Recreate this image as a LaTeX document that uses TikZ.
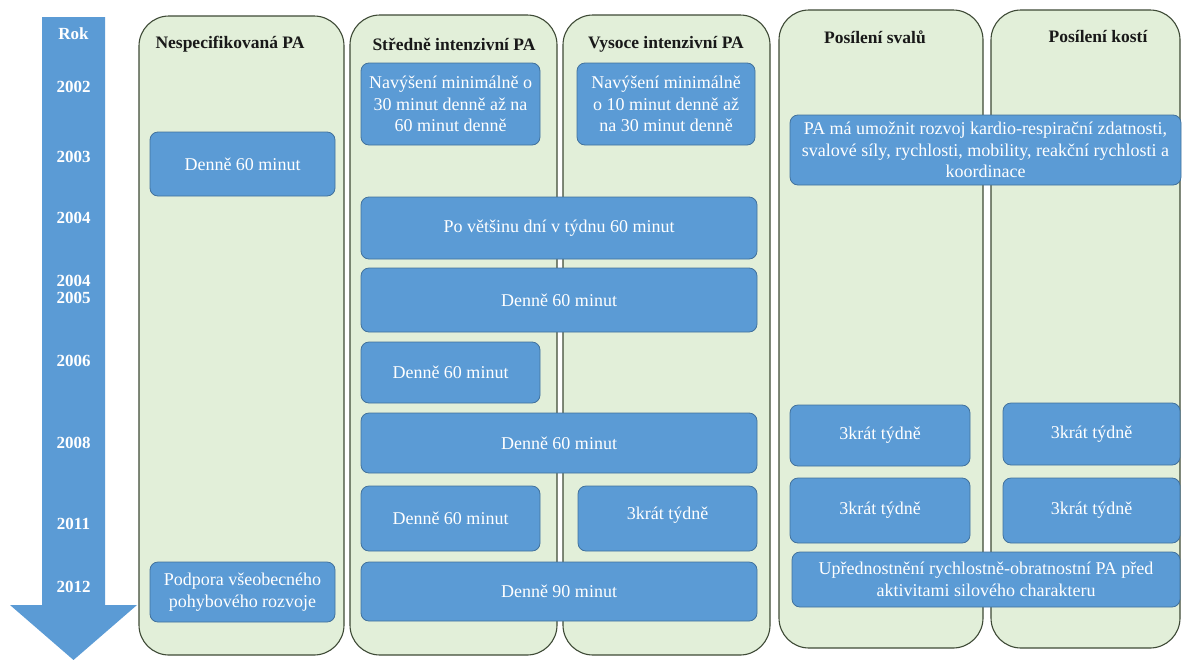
\documentclass[tikz,border=0pt]{standalone}
\usepackage{fontspec}
\setmainfont{Liberation Serif}
\definecolor{boxblue}{HTML}{5B9BD5}
\definecolor{boxedge}{HTML}{41719C}
\definecolor{colfill}{HTML}{E2EFD9}
\definecolor{coledge}{HTML}{3E4A36}
\tikzset{
  colbox/.style={draw=coledge, line width=1.1pt, fill=colfill, rounded corners=30pt, inner sep=0pt},
  coltitle/.style={font=\fontsize{17.5}{20}\selectfont\bfseries, text=black!90, inner sep=0pt},
  bx/.style={draw=boxedge, line width=0.8pt, fill=boxblue, rounded corners=8pt, text=white,
    font=\fontsize{18}{21.5}\selectfont, align=center, inner sep=1pt},
  yr/.style={font=\fontsize{17}{19}\selectfont\bfseries, text=white, inner sep=0pt, align=center}
}
\begin{document}
\begin{tikzpicture}[x=1pt,y=-1pt]
\useasboundingbox (0,0) rectangle (1182,659);
% timeline arrow
\fill[boxblue] (42,17) -- (105,17) -- (105,605) -- (137,605) -- (73.5,660) -- (10,605) -- (42,605) -- cycle;
\node[yr] (rok) at (73.5,34) {Rok};
\node[yr] (y02) at (73.5,87) {2002};
\node[yr] (y03) at (73.5,157) {2003};
\node[yr] (y04) at (73.5,218) {2004};
\node[yr] (y0405) at (73.5,289.5) {2004\\[-2pt]2005};
\node[yr] (y06) at (73.5,361) {2006};
\node[yr] (y08) at (73.5,443) {2008};
\node[yr] (y11) at (73.5,524) {2011};
\node[yr] (y12) at (73.5,587) {2012};
% columns
\node[colbox, minimum width=205pt, minimum height=639pt] (c1) at (241.5,335.5) {};
\node[colbox, minimum width=207pt, minimum height=640pt] (c2) at (453.5,335) {};
\node[colbox, minimum width=207pt, minimum height=640pt] (c3) at (666.5,335) {};
\node[colbox, minimum width=204pt, minimum height=638pt] (c4) at (881,329) {};
\node[colbox, minimum width=189pt, minimum height=638pt] (c5) at (1085.5,329) {};
\node[coltitle] (t1) at (230,44) {Nespecifikovaná PA};
\node[coltitle] (t2) at (454,44) {Středně intenzivní PA};
\node[coltitle] (t3) at (666,44) {Vysoce intenzivní PA};
\node[coltitle] (t4) at (875,37) {Posílení svalů};
\node[coltitle] (t5) at (1098,37) {Posílení kostí};
% boxes
\node[bx, minimum width=185pt, minimum height=64pt] (b1) at (242.5,164) {Denně 60 minut};
\node[bx, minimum width=179pt, minimum height=82pt] (n2a) at (450.5,104) {Navýšení minimálně o\\30 minut denně až na\\60 minut denně};
\node[bx, minimum width=178pt, minimum height=82pt] (n3a) at (666,104) {Navýšení minimálně\\o 10 minut denně až\\na 30 minut denně};
\node[bx, minimum width=391pt, minimum height=70pt] (pa) at (985.5,150) {PA má umožnit rozvoj kardio-respirační zdatnosti,\\svalové síly, rychlosti, mobility, reakční rychlosti a\\koordinace};
\node[bx, minimum width=396pt, minimum height=62pt] (po) at (559,228) {Po většinu dní v týdnu 60 minut};
\node[bx, minimum width=396pt, minimum height=64pt] (d45) at (559,300) {Denně 60 minut};
\node[bx, minimum width=179pt, minimum height=61pt] (d06) at (450.5,372.5) {Denně 60 minut};
\node[bx, minimum width=396pt, minimum height=60pt] (d08) at (559,443) {Denně 60 minut};
\node[bx, minimum width=180pt, minimum height=61pt] (s1) at (880,435.5) {3krát týdně};
\node[bx, minimum width=177pt, minimum height=62pt] (k1) at (1091.5,434) {3krát týdně};
\node[bx, minimum width=180pt, minimum height=65pt] (s2) at (880,510.5) {3krát týdně};
\node[bx, minimum width=177pt, minimum height=65pt] (k2) at (1091.5,510.5) {3krát týdně};
\node[bx, minimum width=179pt, minimum height=65pt] (d11) at (450.5,518.5) {Denně 60 minut};
\node[bx, minimum width=179pt, minimum height=65pt, text depth=10pt] (t11) at (667.5,518.5) {3krát týdně};
\node[bx, minimum width=388pt, minimum height=55pt] (up) at (986,579.5) {Upřednostnění rychlostně-obratnostní PA před\\aktivitami silového charakteru};
\node[bx, minimum width=185pt, minimum height=60pt] (pod) at (242.5,592) {Podpora všeobecného\\pohybového rozvoje};
\node[bx, minimum width=396pt, minimum height=59pt] (d90) at (559,591.5) {Denně 90 minut};
\end{tikzpicture}
\end{document}
